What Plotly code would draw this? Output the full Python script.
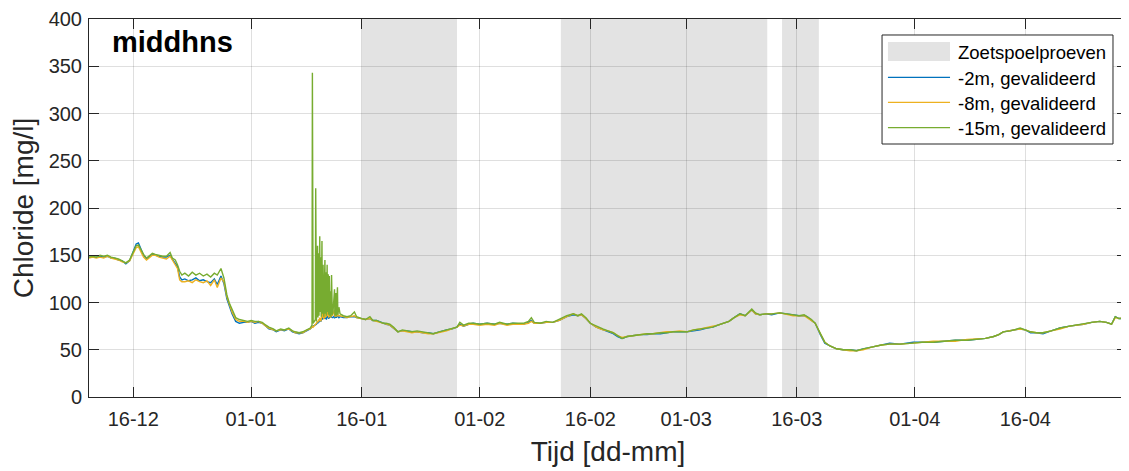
import pandas as pd
import plotly.graph_objects as go

start_date = "2018-12-10"

# days since start_date (shared time base)
days = [0.0, 0.5, 1.0, 1.5, 2.0, 2.5, 3.0, 3.5, 4.0, 4.5, 5.0, 5.5, 6.0, 6.4, 6.7, 7.0, 7.4, 7.8, 8.2, 8.6,
        9.0, 9.5, 10.0, 10.5, 11.0, 11.3, 11.7, 12.0, 12.3, 12.6, 13.0, 13.5, 14.0, 14.5, 15.0, 15.5, 16.0, 16.5,
        17.0, 17.4, 17.9, 18.3, 18.7, 19.0, 19.4, 19.9, 20.4, 21.0, 21.5, 22.0, 22.5, 23.0, 23.5, 24.0, 24.4,
        25.0, 25.4, 26.0, 26.5, 27.1, 27.6, 28.0, 28.5, 29.0, 29.6, 30.0, 30.25, 30.3, 30.4, 30.7, 30.75, 30.85,
        31.0, 31.05, 31.15, 31.2, 31.3, 31.35, 31.45, 31.5, 31.6, 31.65, 31.75, 31.85, 32.0, 32.05, 32.15, 32.2,
        32.3, 32.35, 32.45, 32.5, 32.6, 32.65, 32.75, 32.8, 32.9, 33.0, 33.1, 33.3, 33.35,
        33.5, 33.55, 33.7, 33.75, 33.9, 34.05, 34.5, 35.0, 35.5, 36.0, 36.3, 37.0, 37.5, 38.1, 38.5, 39.0, 39.9,
        40.3, 40.8,
        41.3, 41.9, 42.5, 43.1, 43.8, 44.5, 45.3, 46.0, 46.7, 47.5, 48.5, 49.2, 49.9, 50.3, 50.8, 51.5, 52.1,
        53.0, 54.0, 55.0, 55.7, 56.7, 57.5, 58.9, 59.6, 60.0, 60.4, 61.2, 62.0, 62.9, 63.8, 64.8, 65.7, 66.3,
        66.8, 67.4, 68.0, 68.8, 69.7, 70.4, 71.1, 71.7, 72.3, 73.0, 73.8, 74.7, 75.7, 76.5, 77.5, 78.3, 79.2,
        80.1, 81.1, 82.0, 82.9, 83.8, 84.6, 85.3, 86.0, 86.8, 87.5, 88.3, 89.0, 89.9, 90.4, 91.0, 91.8, 92.6,
        93.7, 94.5, 95.5, 96.3, 97.0, 97.4, 98.0, 98.5, 99.2, 99.8, 100.5, 101.4, 102.3, 103.2, 104.1, 105.0,
        106.3, 107.5, 108.6, 110.0, 111.8, 113.0, 114.5, 116.0, 117.5, 119.1, 120.5, 121.6, 122.7, 123.4,
        124.0, 125.0, 126.3, 127.0, 127.7, 128.5, 129.4, 130.5, 131.7, 133.0, 134.9, 136.0, 137.1, 138.0,
        138.7, 139.2, 139.7, 140.3]

cl_15m = [148, 149, 148, 150, 149, 150, 148, 147, 146, 144, 142, 145, 154, 160, 161, 156, 151, 147, 150, 152,
          151, 150, 149, 149, 153, 147, 145, 140, 133, 129, 131, 128, 132, 129, 131, 128, 130, 127,
          131, 129, 136, 126, 108, 100, 92, 84, 82, 81, 80, 81, 80, 80, 79, 76, 74,
          72, 70, 72, 71, 73, 70, 69, 68, 69, 71, 73, 76, 343, 78, 82, 221, 80,
          160, 84, 152, 86, 170, 90, 148, 85, 165, 88, 140, 85, 145, 88, 132, 86,
          140, 90, 130, 87, 128, 86, 112, 85, 129, 87, 90, 114, 86,
          110, 86, 116, 87, 95, 88, 86, 85, 86, 90, 85, 83, 82, 85, 81, 81, 78,
          78, 77,
          74, 69, 71, 70, 69, 70, 69, 68, 67, 69, 71, 72, 74, 79, 76, 78, 78,
          77, 78, 77, 79, 77, 78, 78, 80, 84, 79, 78, 80, 79, 82, 86, 88, 86,
          88, 84, 78, 75, 72, 70, 68, 65, 62, 64, 65, 66, 67, 67, 68, 68, 69,
          69, 69, 71, 72, 73, 74, 76, 78, 80, 84, 88, 86, 93, 89, 87, 88, 88,
          89, 88, 87, 86, 87, 85, 82, 78, 67, 58, 54, 51, 50, 50, 49, 51,
          53, 55, 56, 56, 57, 58, 58, 59, 60, 60, 61, 62, 64, 66,
          69, 70, 73, 71, 69, 68, 68, 70, 73, 75, 78, 79, 80, 79,
          77, 85, 83, 83]

cl_8m = [147, 148, 147, 148, 147, 149, 147, 146, 145, 143, 142, 144, 152, 158, 159, 154, 148, 145, 148, 150,
         150, 148, 147, 146, 149, 145, 141, 136, 124, 122, 122, 123, 121, 124, 122, 121, 123, 118,
         124, 116, 126, 122, 106, 98, 90, 82, 80, 80, 79, 80, 79, 80, 78, 75, 73,
         71, 70, 71, 71, 72, 70, 68, 68, 68, 71, 72, 74, 75, 74, 76, 77, 78,
         80, 79, 82, 80, 84, 81, 80, 82, 88, 84, 95, 82, 118, 84, 100, 85,
         120, 86, 108, 84, 90, 85, 110, 84, 95, 86, 88, 92, 85,
         88, 85, 90, 86, 86, 86, 85, 84, 85, 86, 84, 83, 82, 83, 81, 80, 78,
         77, 76,
         73, 69, 70, 69, 68, 69, 68, 67, 67, 68, 70, 72, 74, 76, 75, 77, 77,
         76, 77, 76, 78, 76, 77, 77, 78, 80, 78, 78, 79, 79, 81, 85, 88, 86,
         87, 83, 78, 74, 71, 70, 68, 65, 63, 64, 65, 66, 67, 67, 68, 69, 69,
         70, 69, 71, 72, 74, 75, 76, 78, 80, 84, 87, 86, 92, 88, 87, 88, 88,
         89, 88, 86, 86, 86, 84, 81, 78, 67, 58, 54, 51, 50, 49, 49, 50,
         53, 55, 56, 56, 57, 58, 59, 59, 59, 61, 62, 62, 64, 66,
         69, 70, 72, 71, 69, 68, 68, 70, 72, 75, 77, 79, 80, 79,
         77, 84, 83, 84]

cl_2m = [148, 148, 148, 149, 148, 149, 147, 147, 145, 144, 141, 144, 155, 162, 163, 157, 150, 146, 149, 151,
         150, 149, 148, 148, 150, 146, 142, 138, 127, 124, 125, 123, 124, 126, 123, 124, 122, 121,
         125, 119, 128, 120, 104, 97, 88, 80, 78, 79, 79, 80, 78, 79, 78, 75, 72,
         71, 69, 71, 70, 72, 69, 68, 67, 68, 70, 72, 74, 74, 75, 76, 77, 77,
         79, 78, 80, 79, 82, 80, 80, 81, 84, 82, 86, 83, 85, 83, 84, 82,
         86, 84, 85, 83, 84, 85, 86, 84, 85, 84, 84, 86, 84,
         85, 84, 86, 85, 84, 85, 84, 84, 85, 85, 84, 83, 82, 83, 81, 81, 78,
         77, 76,
         73, 69, 70, 70, 69, 69, 68, 68, 67, 69, 71, 72, 74, 77, 75, 77, 78,
         77, 78, 77, 78, 77, 78, 77, 79, 81, 78, 78, 79, 79, 81, 85, 87, 86,
         87, 83, 78, 74, 71, 69, 67, 64, 62, 64, 65, 66, 66, 67, 67, 68, 69,
         69, 69, 70, 71, 73, 74, 76, 78, 80, 84, 88, 86, 92, 88, 87, 88, 87,
         89, 88, 87, 86, 86, 85, 81, 78, 66, 57, 54, 51, 50, 50, 49, 51,
         53, 55, 57, 56, 58, 58, 58, 59, 60, 60, 61, 62, 64, 66,
         69, 70, 72, 71, 68, 68, 67, 70, 73, 75, 77, 79, 80, 79,
         77, 85, 83, 83]

series_names = ["-2m, gevalideerd", "-8m, gevalideerd", "-15m, gevalideerd"]
series_colors = ["#0072BD", "#EDB120", "#77AC30"]

shade_starts = ["2019-01-16 00:00", "2019-02-12 00:00", "2019-03-14 00:00"]
shade_ends = ["2019-01-28 22:00", "2019-03-12 00:00", "2019-03-19 00:00"]
shade_name = "Zoetspoelproeven"
shade_color = "#e3e3e3"
shade_fill = "rgba(0,0,0,0.11)"   # translucent so the grid shows through

tick_dates = ["2018-12-16", "2019-01-01", "2019-01-16", "2019-02-01", "2019-02-16",
              "2019-03-01", "2019-03-16", "2019-04-01", "2019-04-16"]
x_range = ["2018-12-10 00:00", "2019-04-29 19:00"]
y_range = [0, 400]
y_ticks = [0, 50, 100, 150, 200, 250, 300, 350, 400]

assert len(days) == len(cl_15m) == len(cl_8m) == len(cl_2m)

t = pd.Timestamp(start_date) + pd.to_timedelta(days, unit="D")

fig = go.Figure()
for s0, s1 in zip(shade_starts, shade_ends):
    fig.add_shape(type="rect", xref="x", yref="y", x0=s0, x1=s1, y0=y_range[0], y1=y_range[1],
                  fillcolor=shade_fill, line_width=0, layer="below")

for vals, name, col in zip([cl_2m, cl_8m, cl_15m], series_names, series_colors):
    fig.add_trace(go.Scatter(x=t, y=vals, mode="lines", name=name,
                             line=dict(color=col, width=1.4), showlegend=False))

# ---- legend box (drawn in paper coordinates) ----
LX0, LX1, LY0, LY1 = 0.764, 0.9865, 0.6693, 0.9577   # box
SX0, SX1 = 0.7697, 0.8295                             # symbol span
TX = 0.8353                                           # text left
row_y = [0.914, 0.8458, 0.7796, 0.7124]               # row centres
fig.add_shape(type="rect", xref="paper", yref="paper", x0=LX0, x1=LX1, y0=LY0, y1=LY1,
              fillcolor="white", line=dict(color="#262626", width=1), layer="above")
fig.add_shape(type="rect", xref="paper", yref="paper", x0=SX0, x1=SX1,
              y0=row_y[0] - 0.025, y1=row_y[0] + 0.025,
              fillcolor=shade_color, line_width=0, layer="above")
legend_labels = [shade_name] + series_names
for i, col in enumerate(series_colors):
    fig.add_shape(type="line", xref="paper", yref="paper", x0=SX0, x1=SX1,
                  y0=row_y[i + 1], y1=row_y[i + 1], line=dict(color=col, width=1.2), layer="above")
for i, lab in enumerate(legend_labels):
    fig.add_annotation(text=lab, xref="paper", yref="paper", x=TX, y=row_y[i] - 0.003,
                       xanchor="left", yanchor="middle", showarrow=False,
                       font=dict(size=18.5, color="black"))

axis_common = dict(showline=True, linecolor="#262626", linewidth=1, mirror="ticks",
                   ticks="inside", ticklen=10, tickcolor="#262626",
                   showgrid=True, gridcolor="rgba(38,38,38,0.15)", gridwidth=1,
                   zeroline=False, tickfont=dict(size=20, color="#262626"))

fig.update_xaxes(type="date", range=x_range, tickvals=tick_dates, tickformat="%d-%m",
                 title=dict(text="Tijd [dd-mm]", font=dict(size=28, color="#262626"), standoff=12),
                 ticklabelstandoff=4, **axis_common)
fig.update_yaxes(range=y_range, tickvals=y_ticks,
                 title=dict(text="Chloride [mg/l]", font=dict(size=28, color="#262626"), standoff=10),
                 ticklabelstandoff=2, **axis_common)

fig.add_annotation(text="<b>middhns</b>", xref="paper", yref="paper", x=0.02, y=0.94,
                   xanchor="left", yanchor="middle", showarrow=False,
                   font=dict(size=29, color="black"))

# page body has an 8px margin, so the figure is 8px smaller than the window
fig.update_layout(
    width=1121, height=463,
    margin=dict(l=81, r=2, t=11, b=74, autoexpand=False),
    paper_bgcolor="white", plot_bgcolor="white",
    font=dict(family="Liberation Sans, Arial, sans-serif", color="#262626"),
    showlegend=False,
)

fig.write_html("out.html")
